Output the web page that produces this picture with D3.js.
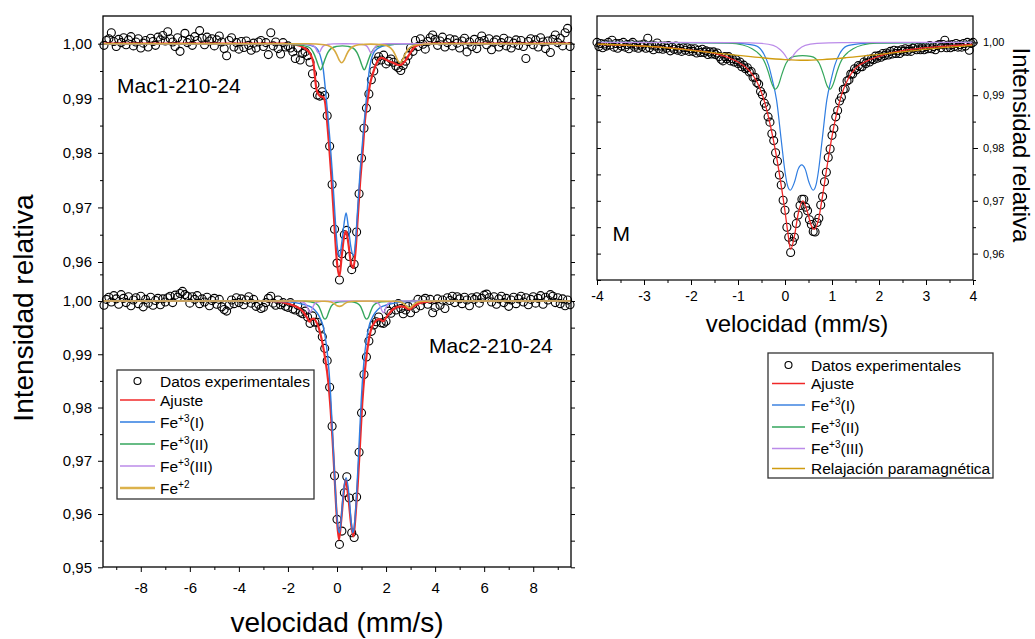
<!DOCTYPE html>
<html>
<head>
<meta charset="utf-8">
<script src="https://cdn.jsdelivr.net/npm/d3@7"></script>
<style>
body { margin: 0; background: #fff; }
text { font-family: "Liberation Sans", Arial, sans-serif; fill: #000; }
</style>
</head>
<body>
<svg width="1035" height="639"></svg>
<script>
// velocidades de canal (mm/s), muestras Mac1 / Mac2
var velMac = [-9.5,-9.4,-9.3,-9.2,-9.1,-9,-8.9,-8.8,-8.7,-8.6,
  -8.5,-8.4,-8.3,-8.2,-8.1,-8,-7.9,-7.8,-7.7,-7.6,
  -7.5,-7.4,-7.3,-7.2,-7.1,-7,-6.9,-6.8,-6.7,-6.6,
  -6.5,-6.4,-6.3,-6.2,-6.1,-6,-5.9,-5.8,-5.7,-5.6,
  -5.5,-5.4,-5.3,-5.2,-5.1,-5,-4.9,-4.8,-4.7,-4.6,
  -4.5,-4.4,-4.3,-4.2,-4.1,-4,-3.9,-3.8,-3.7,-3.6,
  -3.5,-3.4,-3.3,-3.2,-3.1,-3,-2.9,-2.8,-2.7,-2.6,
  -2.5,-2.4,-2.3,-2.2,-2.1,-2,-1.9,-1.8,-1.7,-1.6,
  -1.5,-1.4,-1.3,-1.2,-1.1,-1,-0.9,-0.8,-0.7,-0.6,
  -0.5,-0.4,-0.3,-0.2,-0.1,0,0.1,0.2,0.3,0.4,
  0.5,0.6,0.7,0.8,0.9,1,1.1,1.2,1.3,1.4,
  1.5,1.6,1.7,1.8,1.9,2,2.1,2.2,2.3,2.4,
  2.5,2.6,2.7,2.8,2.9,3,3.1,3.2,3.3,3.4,
  3.5,3.6,3.7,3.8,3.9,4,4.1,4.2,4.3,4.4,
  4.5,4.6,4.7,4.8,4.9,5,5.1,5.2,5.3,5.4,
  5.5,5.6,5.7,5.8,5.9,6,6.1,6.2,6.3,6.4,
  6.5,6.6,6.7,6.8,6.9,7,7.1,7.2,7.3,7.4,
  7.5,7.6,7.7,7.8,7.9,8,8.1,8.2,8.3,8.4,
  8.5,8.6,8.7,8.8,8.9,9,9.1,9.2,9.3,9.4,
  9.5];

var mac1 = [0.9997,1.0006,1.0009,1.0020,1.0004,0.9995,1.0008,1.0002,1.0011,0.9998,
  1.0007,1.0013,0.9996,1.0003,1.0009,0.9992,1.0001,1.0006,0.9994,1.0010,
  1.0004,0.9997,1.0012,1.0007,1.0015,1.0005,1.0022,1.0009,1.0003,0.9995,
  1.0011,0.9986,1.0006,1.0019,1.0002,1.0008,0.9997,1.0013,1.0006,1.0024,
  1.0010,0.9998,1.0012,1.0005,1.0009,0.9996,1.0007,1.0014,1.0003,0.9991,
  0.9978,1.0006,1.0011,0.9994,1.0002,0.9990,1.0004,0.9993,1.0005,0.9997,
  0.9988,1.0001,0.9992,1.0003,1.0006,0.9995,1.0002,0.9980,1.0020,0.9996,
  1.0003,0.9991,0.9981,1.0002,0.9994,0.9996,0.9992,0.9985,0.9973,0.9992,
  0.9970,0.9982,0.9985,0.9978,0.9966,0.9945,0.9925,0.9906,0.9904,0.9912,
  0.9905,0.9868,0.9812,0.9742,0.9660,0.9598,0.9567,0.9615,0.9650,0.9658,
  0.9610,0.9586,0.9596,0.9655,0.9725,0.9790,0.9845,0.9882,0.9908,0.9934,
  0.9950,0.9968,0.9976,0.9970,0.9979,0.9963,0.9968,0.9972,0.9966,0.9959,
  0.9956,0.9951,0.9960,0.9968,0.9978,0.9992,0.9986,1.0006,0.9995,1.0009,
  0.9999,0.9990,1.0004,1.0011,1.0016,1.0008,0.9997,1.0005,1.0012,0.9994,
  1.0002,1.0009,0.9996,1.0007,1.0001,0.9992,1.0005,1.0010,0.9985,1.0003,
  0.9995,1.0008,0.9991,1.0004,1.0014,1.0006,0.9998,1.0009,0.9989,1.0003,
  1.0007,0.9994,1.0002,1.0010,0.9996,1.0005,0.9992,1.0001,1.0007,0.9997,
  1.0006,0.9995,0.9973,1.0004,1.0009,0.9998,1.0007,0.9994,1.0011,1.0003,
  0.9991,1.0005,0.9984,1.0008,1.0016,1.0002,1.0010,0.9996,1.0020,1.0028,
  0.9995];

var mac2 = [0.9992,1.0003,1.0007,0.9998,1.0010,1.0004,0.9994,1.0012,1.0005,0.9997,
  1.0008,0.9991,1.0002,1.0006,0.9995,1.0009,0.9989,1.0003,0.9996,1.0007,
  0.9992,1.0001,1.0005,0.9993,1.0004,0.9998,1.0006,1.0009,0.9997,1.0011,
  1.0007,1.0014,1.0018,1.0012,1.0009,0.9996,1.0008,1.0003,1.0010,0.9995,
  1.0004,0.9998,1.0007,0.9991,1.0001,1.0005,0.9994,1.0003,0.9989,0.9984,
  0.9981,0.9992,1.0002,0.9995,1.0006,0.9997,1.0004,0.9993,1.0002,1.0008,
  0.9996,1.0003,0.9990,0.9994,0.9986,0.9988,0.9997,1.0005,1.0009,0.9996,
  0.9992,1.0002,0.9993,0.9997,0.9990,0.9988,0.9997,0.9985,0.9983,0.9992,
  0.9979,0.9976,0.9981,0.9970,0.9958,0.9972,0.9960,0.9960,0.9949,0.9933,
  0.9911,0.9888,0.9838,0.9765,0.9672,0.9590,0.9543,0.9568,0.9640,0.9670,
  0.9630,0.9565,0.9556,0.9632,0.9716,0.9790,0.9862,0.9895,0.9925,0.9943,
  0.9955,0.9961,0.9970,0.9959,0.9958,0.9962,0.9981,0.9977,0.9992,0.9983,
  0.9995,0.9986,0.9976,0.9983,0.9990,0.9978,0.9994,0.9986,1.0003,0.9991,
  1.0002,1.0005,0.9994,1.0003,0.9978,0.9988,1.0004,0.9992,1.0002,0.9986,
  1.0006,1.0001,1.0009,0.9997,1.0008,1.0004,0.9995,1.0007,1.0002,0.9991,
  1.0006,1.0003,1.0008,0.9996,1.0005,1.0011,1.0013,1.0006,0.9998,1.0008,
  0.9994,1.0004,1.0009,0.9997,1.0005,0.9990,1.0002,1.0007,0.9995,1.0004,
  1.0009,0.9998,1.0006,0.9993,1.0003,1.0008,0.9996,1.0005,1.0010,0.9994,
  1.0007,1.0002,1.0012,1.0009,0.9997,1.0006,0.9995,1.0004,0.9991,1.0002,
  0.9993];

// muestra M
var velM = [-4,-3.96,-3.92,-3.88,-3.84,-3.8,-3.76,-3.72,-3.68,-3.64,
  -3.6,-3.56,-3.52,-3.48,-3.44,-3.4,-3.36,-3.32,-3.28,-3.24,
  -3.2,-3.16,-3.12,-3.08,-3.04,-3,-2.96,-2.92,-2.88,-2.84,
  -2.8,-2.76,-2.72,-2.68,-2.64,-2.6,-2.56,-2.52,-2.48,-2.44,
  -2.4,-2.36,-2.32,-2.28,-2.24,-2.2,-2.16,-2.12,-2.08,-2.04,
  -2,-1.96,-1.92,-1.88,-1.84,-1.8,-1.76,-1.72,-1.68,-1.64,
  -1.6,-1.56,-1.52,-1.48,-1.44,-1.4,-1.36,-1.32,-1.28,-1.24,
  -1.2,-1.16,-1.12,-1.08,-1.04,-1,-0.96,-0.92,-0.88,-0.84,
  -0.8,-0.76,-0.72,-0.68,-0.64,-0.6,-0.56,-0.52,-0.48,-0.44,
  -0.4,-0.36,-0.32,-0.28,-0.24,-0.2,-0.16,-0.12,-0.08,-0.04,
  0,0.04,0.08,0.12,0.16,0.2,0.24,0.28,0.32,0.36,
  0.4,0.44,0.48,0.52,0.56,0.6,0.64,0.68,0.72,0.76,
  0.8,0.84,0.88,0.92,0.96,1,1.04,1.08,1.12,1.16,
  1.2,1.24,1.28,1.32,1.36,1.4,1.44,1.48,1.52,1.56,
  1.6,1.64,1.68,1.72,1.76,1.8,1.84,1.88,1.92,1.96,
  2,2.04,2.08,2.12,2.16,2.2,2.24,2.28,2.32,2.36,
  2.4,2.44,2.48,2.52,2.56,2.6,2.64,2.68,2.72,2.76,
  2.8,2.84,2.88,2.92,2.96,3,3.04,3.08,3.12,3.16,
  3.2,3.24,3.28,3.32,3.36,3.4,3.44,3.48,3.52,3.56,
  3.6,3.64,3.68,3.72,3.76,3.8,3.84,3.88,3.92,3.96,
  4];

var muestraM = [1.0000,0.9992,0.9998,0.9990,0.9997,0.9993,1.0000,0.9995,1.0004,0.9991,
  0.9998,0.9989,0.9998,0.9993,1.0000,0.9991,0.9996,0.9988,0.9997,1.0000,
  0.9991,0.9995,0.9989,0.9995,0.9992,0.9997,0.9989,1.0008,0.9990,0.9995,
  0.9986,0.9993,0.9999,0.9988,0.9993,0.9987,0.9993,0.9989,0.9994,0.9984,
  0.9991,0.9987,0.9993,0.9985,0.9989,0.9983,0.9990,0.9985,0.9990,0.9983,
  0.9988,0.9983,0.9988,0.9980,0.9985,0.9981,0.9987,0.9981,0.9984,0.9977,
  0.9982,0.9978,0.9982,0.9977,0.9980,0.9973,0.9968,0.9965,0.9973,0.9969,
  0.9973,0.9965,0.9969,0.9963,0.9967,0.9960,0.9963,0.9954,0.9957,0.9950,
  0.9952,0.9944,0.9945,0.9934,0.9934,0.9924,0.9921,0.9907,0.9901,0.9885,
  0.9878,0.9859,0.9849,0.9827,0.9814,0.9791,0.9775,0.9749,0.9730,0.9701,
  0.9682,0.9650,0.9631,0.9602,0.9623,0.9631,0.9657,0.9673,0.9691,0.9703,
  0.9703,0.9688,0.9681,0.9664,0.9655,0.9642,0.9641,0.9659,0.9667,0.9692,
  0.9708,0.9736,0.9754,0.9782,0.9798,0.9824,0.9837,0.9859,0.9871,0.9889,
  0.9896,0.9911,0.9912,0.9927,0.9929,0.9940,0.9940,0.9950,0.9948,0.9956,
  0.9954,0.9954,0.9963,0.9960,0.9968,0.9963,0.9969,0.9967,0.9974,0.9970,
  0.9975,0.9972,0.9979,0.9975,0.9980,0.9976,0.9983,0.9978,0.9985,0.9979,
  0.9984,0.9979,0.9986,0.9983,0.9988,0.9983,0.9987,0.9983,0.9989,0.9992,
  0.9986,0.9991,0.9986,0.9990,0.9986,0.9992,0.9988,0.9994,0.9988,0.9992,
  0.9986,0.9994,0.9996,0.9990,0.9996,1.0004,0.9990,0.9995,0.9990,0.9996,
  0.9992,0.9998,0.9991,0.9996,0.9991,0.9998,0.9993,1.0000,0.9985,0.9998,
  1.0000];

// curvas de ajuste: [velocidad, intensidad]
var ajusteMac1 = [[-9.54,1],[-2.2,1],[-1.92,0.99995],[-1.49,0.99957],[-1.3,0.9991],[-1.1,0.9982],[-0.96,0.9964],[-0.83,0.9915],[-0.69,0.9904],[-0.56,0.9902],[-0.49,0.9894],[-0.42,0.9866],[-0.33,0.9818],[-0.22,0.9751],[-0.11,0.9671],[-0.01,0.9604],[0.1,0.9574],[0.19,0.961],[0.29,0.9647],[0.37,0.9656],[0.46,0.9635],[0.57,0.9598],[0.67,0.9589],[0.76,0.9623],[0.84,0.9677],[0.94,0.9745],[1.05,0.9805],[1.14,0.986],[1.25,0.9897],[1.34,0.9924],[1.48,0.9948],[1.62,0.9965],[1.82,0.9974],[2.02,0.997],[2.23,0.9966],[2.43,0.9962],[2.57,0.9961],[2.77,0.9968],[2.97,0.9982],[3.18,0.9995],[3.52,0.99995],[4,1],[9.54,1]];
var fe3IMac1 = [[-9.54,1],[-1.92,1],[-1.3,0.99988],[-0.9,0.9994],[-0.69,0.9979],[-0.56,0.9953],[-0.46,0.991],[-0.38,0.9872],[-0.29,0.9825],[-0.19,0.9763],[-0.08,0.9684],[0.01,0.9629],[0.1,0.961],[0.19,0.9634],[0.29,0.9671],[0.37,0.969],[0.46,0.9665],[0.56,0.9629],[0.67,0.9612],[0.76,0.9641],[0.84,0.9696],[0.94,0.9765],[1.05,0.9825],[1.14,0.9872],[1.22,0.991],[1.32,0.9953],[1.45,0.9979],[1.66,0.99915],[2.06,0.99976],[2.84,1],[9.54,1]];
var fe3IIMac1 = [[-9.54,1],[-2.2,1],[-1.67,0.9998],[-1.37,0.99965],[-1.12,0.9993],[-0.97,0.9984],[-0.87,0.9974],[-0.77,0.9961],[-0.67,0.9952],[-0.57,0.9961],[-0.47,0.9974],[-0.37,0.9984],[-0.22,0.9992],[-0.02,0.9995],[0.22,0.9996],[0.46,0.9995],[0.66,0.9992],[0.81,0.9984],[0.91,0.9974],[1.01,0.9961],[1.11,0.9952],[1.21,0.9961],[1.31,0.9974],[1.41,0.9984],[1.56,0.9993],[1.81,0.99965],[2.11,0.9998],[2.64,1],[9.54,1]];
var fe3IIIMac1 = [[-9.54,1],[-1.35,1],[-1.1,0.99985],[-0.95,0.9996],[-0.87,0.99915],[-0.81,0.9986],[-0.75,0.9983],[-0.69,0.9986],[-0.63,0.99915],[-0.55,0.9996],[-0.4,0.99985],[-0.15,0.99997],[0.325,0.99999],[0.8,0.99997],[1.05,0.99985],[1.2,0.9996],[1.28,0.99915],[1.34,0.9986],[1.4,0.9983],[1.46,0.9986],[1.52,0.99915],[1.6,0.9996],[1.75,0.99985],[2,1],[9.54,1]];
var fe2Mac1 = [[-9.54,1],[-1.2,1],[-0.51,0.9998],[-0.26,0.99945],[-0.11,0.9988],[-0.01,0.998],[0.09,0.997],[0.19,0.9965],[0.29,0.997],[0.39,0.998],[0.49,0.9988],[0.64,0.99945],[0.89,0.9998],[1.38,0.99992],[1.87,0.9998],[2.12,0.99945],[2.27,0.9988],[2.37,0.998],[2.47,0.997],[2.57,0.9965],[2.67,0.997],[2.77,0.998],[2.87,0.9988],[3.02,0.99945],[3.27,0.9998],[3.9,1],[9.54,1]];

var ajusteMac2 = [[-9.54,1],[-3,1],[-2.5,0.99995],[-2,0.9995],[-1.7,0.999],[-1.5,0.9985],[-1.35,0.9978],[-1.2,0.9967],[-1.12,0.9961],[-1.03,0.9966],[-0.95,0.9967],[-0.85,0.9961],[-0.76,0.9952],[-0.62,0.9927],[-0.49,0.9894],[-0.35,0.9846],[-0.26,0.9796],[-0.18,0.9739],[-0.1,0.9671],[-0.01,0.9596],[0.08,0.9552],[0.16,0.9583],[0.26,0.9633],[0.35,0.9664],[0.46,0.9633],[0.57,0.9583],[0.67,0.9558],[0.76,0.9600],[0.84,0.9652],[0.94,0.9733],[1.03,0.9808],[1.13,0.9866],[1.24,0.991],[1.37,0.9943],[1.55,0.9961],[1.72,0.9966],[1.88,0.9962],[2.02,0.997],[2.3,0.9985],[2.6,0.999],[2.8,0.9988],[2.95,0.9984],[3.1,0.9989],[3.3,0.9995],[3.6,0.99985],[4.2,1],[9.54,1]];
var fe3IMac2 = [[-9.54,1],[-3.3,1],[-2,0.99985],[-1.5,0.9995],[-1.2,0.99915],[-0.97,0.9986],[-0.8,0.9977],[-0.69,0.9968],[-0.58,0.9955],[-0.49,0.9935],[-0.4,0.9905],[-0.32,0.9865],[-0.25,0.9815],[-0.18,0.975],[-0.1,0.9675],[-0.02,0.9608],[0.05,0.9572],[0.1,0.9565],[0.17,0.959],[0.26,0.964],[0.37,0.9668],[0.48,0.964],[0.57,0.959],[0.64,0.9565],[0.69,0.9572],[0.76,0.9608],[0.84,0.9675],[0.92,0.975],[0.99,0.9815],[1.06,0.9865],[1.14,0.9905],[1.23,0.9935],[1.32,0.9955],[1.43,0.9968],[1.54,0.9977],[1.71,0.9986],[1.94,0.99915],[2.24,0.9995],[2.74,0.99985],[4,1],[9.54,1]];
var fe3IIMac2 = [[-9.54,1],[-2,1],[-1.3,0.99995],[-1.09,0.99985],[-0.89,0.9996],[-0.74,0.999],[-0.64,0.9979],[-0.57,0.997],[-0.49,0.9966],[-0.41,0.997],[-0.34,0.9979],[-0.24,0.999],[-0.09,0.9996],[0.11,0.99985],[0.36,0.99988],[0.61,0.99985],[0.81,0.9996],[0.96,0.999],[1.06,0.9979],[1.13,0.997],[1.21,0.9966],[1.29,0.997],[1.36,0.9979],[1.46,0.999],[1.61,0.9996],[1.81,0.99985],[2.5,0.99995],[3.2,1],[9.54,1]];
var fe3IIIMac2 = [[-9.54,1],[-1.9,1],[-1.7,0.99997],[-1.45,0.99985],[-1.3,0.99955],[-1.22,0.9989],[-1.16,0.9982],[-1.1,0.9978],[-1.04,0.9982],[-0.98,0.9989],[-0.9,0.99955],[-0.75,0.99985],[-0.5,0.99997],[0.4,0.99999],[1.29,0.99997],[1.54,0.99985],[1.69,0.99955],[1.77,0.9989],[1.83,0.9982],[1.89,0.9978],[1.95,0.9982],[2.01,0.9989],[2.09,0.99955],[2.24,0.99985],[2.49,0.99997],[2.8,1],[9.54,1]];
var fe2Mac2 = [[-9.54,1],[-1,1],[-0.5,0.99995],[-0.25,0.9998],[-0.1,0.99945],[0,0.9991],[0.1,0.999],[0.2,0.9991],[0.3,0.99945],[0.45,0.9998],[0.7,0.99995],[1.5,1],[2.35,0.99995],[2.6,0.9998],[2.75,0.9994],[2.85,0.9990],[2.95,0.9987],[3.05,0.999],[3.15,0.9994],[3.3,0.9998],[3.55,0.99995],[4.2,1],[9.54,1]];

var ajusteM = [[-4,0.99965],[-3.5,0.9995],[-3,0.9993],[-2.5,0.999],[-2,0.99855],[-1.5,0.9979],[-1.2,0.9971],[-1,0.9963],[-0.8,0.995],[-0.7,0.994],[-0.6,0.9926],[-0.5,0.9905],[-0.4,0.9876],[-0.3,0.9838],[-0.2,0.9793],[-0.1,0.974],[0,0.968],[0.06,0.964],[0.12,0.9608],[0.2,0.9633],[0.28,0.9675],[0.38,0.97],[0.48,0.9678],[0.56,0.9653],[0.62,0.9646],[0.7,0.966],[0.8,0.971],[0.9,0.9768],[1,0.9822],[1.1,0.9866],[1.2,0.99],[1.35,0.9932],[1.5,0.9951],[1.75,0.9965],[2,0.99735],[2.25,0.998],[2.5,0.99845],[3,0.999],[3.5,0.99935],[4,0.9996]];
var fe3IM = [[-4,1],[-2,0.99995],[-1.2,0.9999],[-0.9,0.99975],[-0.6,0.9993],[-0.45,0.9978],[-0.35,0.9957],[-0.27,0.9929],[-0.18,0.9891],[-0.08,0.9815],[0,0.9755],[0.05,0.973],[0.11,0.972],[0.2,0.9735],[0.28,0.976],[0.355,0.9768],[0.43,0.976],[0.51,0.9735],[0.6,0.972],[0.66,0.973],[0.71,0.9755],[0.79,0.9815],[0.89,0.9891],[0.98,0.9929],[1.06,0.9957],[1.16,0.9978],[1.31,0.9993],[1.61,0.99975],[1.9,0.9999],[2.7,0.99995],[4,1]];
var fe3IIM = [[-4,1],[-1.95,0.99995],[-1.2,0.99985],[-0.9,0.9995],[-0.7,0.9988],[-0.6,0.9982],[-0.5,0.9973],[-0.42,0.996],[-0.355,0.9944],[-0.28,0.9922],[-0.21,0.99115],[-0.14,0.9919],[-0.065,0.994],[0.02,0.996],[0.1,0.99695],[0.2,0.99735],[0.375,0.9975],[0.55,0.99735],[0.65,0.99695],[0.73,0.996],[0.815,0.994],[0.89,0.9919],[0.96,0.99115],[1.03,0.9922],[1.105,0.9944],[1.17,0.996],[1.25,0.9973],[1.35,0.9982],[1.45,0.9988],[1.65,0.9995],[1.95,0.99985],[4,1]];
var fe3IIIM = [[-4,1],[-1,0.99995],[-0.5,0.9998],[-0.25,0.99945],[-0.1,0.9986],[0,0.9976],[0.05,0.9969],[0.09,0.99658],[0.13,0.9969],[0.18,0.9976],[0.28,0.9986],[0.43,0.99945],[0.68,0.9998],[1.2,0.99995],[4,1]];
var relajM = [[-4,0.9997],[-3.5,0.99955],[-3,0.9993],[-2.5,0.99895],[-2,0.9985],[-1.5,0.998],[-1,0.99755],[-0.5,0.9971],[0,0.99675],[0.4,0.99662],[0.8,0.99675],[1.3,0.9971],[1.8,0.99755],[2.3,0.998],[2.8,0.9985],[3.3,0.99895],[3.8,0.9993],[4,0.99945]];

var nombresMac = [['Datos experimentales'], ['Ajuste'], ['Fe', '+3', '(I)'], ['Fe', '+3', '(II)'], ['Fe', '+3', '(III)'], ['Fe', '+2', '']];
var nombresM = [['Datos experimentales'], ['Ajuste'], ['Fe', '+3', '(I)'], ['Fe', '+3', '(II)'], ['Fe', '+3', '(III)'], ['Relajación paramagnética']];

var rojo = '#f02828', azul = '#2f7de1', verde = '#34a65c', violeta = '#bb8be9';

var svg = d3.select('svg');
svg.append('rect').attr('width', 1035).attr('height', 639).attr('fill', '#fff');

var coma = d3.formatLocale({decimal: ',', thousands: '.', grouping: [3], currency: ['', '']}).format('.2f');
var guion = function (d) { return String(d); };

var xMac = d3.scaleLinear().domain([-9.54, 9.54]).range([103, 571]);
var yMac1 = d3.scaleLinear().domain([0.96, 1.0]).range([262, 43.7]);
var yMac2 = d3.scaleLinear().domain([0.95, 1.0]).range([567.3, 301]);
var xM = d3.scaleLinear().domain([-4, 4]).range([597, 973]);
var yM = d3.scaleLinear().domain([0.955, 1.005]).range([280, 16]);

function dibujar(x, y, vel, vals, curvas) {
    var g = svg.append('g');
    g.selectAll('circle')
        .data(vals)
        .enter()
        .append('circle')
        .attr('cx', function (d, i) { return x(vel[i]); })
        .attr('cy', function (d) { return y(d); })
        .attr('r', 4)
        .attr('fill', 'none')
        .attr('stroke', '#000')
        .attr('stroke-width', 1.1);
    var line = d3.line()
        .x(function (d) { return x(d[0]); })
        .y(function (d) { return y(d[1]); })
        .curve(d3.curveMonotoneX);
    curvas.forEach(function (c) {
        g.append('path')
            .datum(c.pts)
            .attr('d', line)
            .attr('fill', 'none')
            .attr('stroke', c.color)
            .attr('stroke-width', c.w);
    });
}

function ejeY(x, y, mayores, menores, lado, tam, pad, conTexto) {
    var eje = (lado == 'left' ? d3.axisLeft(y) : d3.axisRight(y));
    var g = svg.append('g').attr('transform', 'translate(' + x + ',0)')
        .call(eje.tickValues(mayores).tickSize(tam).tickPadding(pad)
            .tickFormat(conTexto ? coma : ''));
    g.select('.domain').remove();
    var g2 = svg.append('g').attr('transform', 'translate(' + x + ',0)')
        .call((lado == 'left' ? d3.axisLeft(y) : d3.axisRight(y))
            .tickValues(menores).tickSize(tam > 4 ? 3 : tam).tickFormat(''));
    g2.select('.domain').remove();
    return g;
}

function ejeX(y, x, mayores, menores, pad, fs) {
    var g = svg.append('g').attr('transform', 'translate(0,' + y + ')')
        .call(d3.axisBottom(x).tickValues(mayores).tickSize(5).tickPadding(pad).tickFormat(guion));
    g.select('.domain').remove();
    g.selectAll('text').attr('font-size', fs).attr('font-family', '"Liberation Sans", Arial, sans-serif');
    var g2 = svg.append('g').attr('transform', 'translate(0,' + y + ')')
        .call(d3.axisBottom(x).tickValues(menores).tickSize(3).tickFormat(''));
    g2.select('.domain').remove();
}

// panel izquierdo
dibujar(xMac, yMac1, velMac, mac1, [
    {pts: ajusteMac1, color: rojo, w: 2.2},
    {pts: fe3IMac1, color: azul, w: 1.4},
    {pts: fe3IIMac1, color: verde, w: 1.4},
    {pts: fe3IIIMac1, color: violeta, w: 1.4},
    {pts: fe2Mac1, color: '#d8aa40', w: 1.6}
]);
dibujar(xMac, yMac2, velMac, mac2, [
    {pts: ajusteMac2, color: rojo, w: 2.2},
    {pts: fe3IMac2, color: azul, w: 1.4},
    {pts: fe3IIMac2, color: verde, w: 1.4},
    {pts: fe3IIIMac2, color: violeta, w: 1.4},
    {pts: fe2Mac2, color: '#d8aa40', w: 1.6}
]);

svg.append('rect').attr('x', 103).attr('y', 16).attr('width', 468).attr('height', 551)
    .attr('fill', 'none').attr('stroke', '#000').attr('stroke-width', 1.3);

var gl1 = ejeY(103, yMac1, [0.96, 0.97, 0.98, 0.99, 1.0], [0.965, 0.975, 0.985, 0.995], 'left', 5, 6, true);
var gl2 = ejeY(103, yMac2, [0.95, 0.96, 0.97, 0.98, 0.99, 1.0], [0.955, 0.965, 0.975, 0.985, 0.995, 1.005], 'left', 5, 6, true);
[gl1, gl2].forEach(function (g) {
    g.selectAll('text').attr('font-size', 15).attr('font-family', '"Liberation Sans", Arial, sans-serif');
});
ejeY(571, yMac1, [0.96, 0.97, 0.98, 0.99, 1.0], [0.965, 0.975, 0.985, 0.995], 'left', -4, 0, false);
ejeY(571, yMac2, [0.95, 0.96, 0.97, 0.98, 0.99, 1.0], [0.955, 0.965, 0.975, 0.985, 0.995, 1.005], 'left', -4, 0, false);
ejeX(567, xMac, [-8, -6, -4, -2, 0, 2, 4, 6, 8], [-9, -7, -5, -3, -1, 1, 3, 5, 7, 9], 10, 15);

svg.append('text').attr('x', 337).attr('y', 632).attr('text-anchor', 'middle')
    .attr('font-size', 28).text('velocidad (mm/s)');
svg.append('text').attr('transform', 'translate(33,308) rotate(-90)').attr('text-anchor', 'middle')
    .attr('font-size', 28).text('Intensidad relativa');
svg.append('text').attr('x', 117).attr('y', 92.5).attr('font-size', 21).text('Mac1-210-24');
svg.append('text').attr('x', 429).attr('y', 352.5).attr('font-size', 21).text('Mac2-210-24');

// panel derecho
dibujar(xM, yM, velM, muestraM, [
    {pts: ajusteM, color: rojo, w: 1.3},
    {pts: fe3IM, color: azul, w: 1.2},
    {pts: fe3IIM, color: verde, w: 1.2},
    {pts: fe3IIIM, color: violeta, w: 1.2},
    {pts: relajM, color: '#d09c10', w: 1.3}
]);
svg.append('rect').attr('x', 597).attr('y', 16).attr('width', 376).attr('height', 264)
    .attr('fill', 'none').attr('stroke', '#000').attr('stroke-width', 1.2);

var gr = ejeY(973, yM, [0.96, 0.97, 0.98, 0.99, 1.0], [0.955, 0.965, 0.975, 0.985, 0.995], 'right', 5, 5, true);
gr.selectAll('text').attr('font-size', 11).attr('font-family', '"Liberation Sans", Arial, sans-serif');
ejeY(597, yM, [0.96, 0.97, 0.98, 0.99, 1.0], [0.955, 0.965, 0.975, 0.985, 0.995], 'right', 4, 0, false);
ejeX(280, xM, [-4, -3, -2, -1, 0, 1, 2, 3, 4], [-3.5, -2.5, -1.5, -0.5, 0.5, 1.5, 2.5, 3.5], 6.5, 14);

svg.append('text').attr('x', 797).attr('y', 332).attr('text-anchor', 'middle')
    .attr('font-size', 24).text('velocidad (mm/s)');
svg.append('text').attr('transform', 'translate(1013,145) rotate(90)').attr('text-anchor', 'middle')
    .attr('font-size', 24).text('Intensidad relativa');
svg.append('text').attr('x', 612.5).attr('y', 240.5).attr('font-size', 21).text('M');

// leyendas
function leyenda(x0, y0, w, h, filas, nombres, colores, anchos, xl1, xl2, xt, ycirc) {
    var g = svg.append('g');
    g.append('rect').attr('x', x0).attr('y', y0).attr('width', w).attr('height', h)
        .attr('fill', '#fff').attr('stroke', '#333').attr('stroke-width', 1.3);
    g.append('circle').attr('cx', (xl1 + xl2) / 2).attr('cy', ycirc).attr('r', 3.5)
        .attr('fill', 'none').attr('stroke', '#000').attr('stroke-width', 1.1);
    filas.forEach(function (yy, i) {
        g.append('line').attr('x1', xl1).attr('x2', xl2).attr('y1', yy).attr('y2', yy)
            .attr('stroke', colores[i]).attr('stroke-width', anchos[i]);
    });
    nombres.forEach(function (n, i) {
        var yy = (i == 0 ? ycirc : filas[i - 1]) + 5.5;
        var t = g.append('text').attr('x', xt).attr('y', yy).attr('font-size', 15.5);
        t.append('tspan').text(n[0]);
        if (n.length > 1) {
            t.append('tspan').attr('dy', -6).attr('font-size', 10).text(n[1]);
            t.append('tspan').attr('dy', 6).text(n[2]);
        }
    });
}

leyenda(117, 370, 197, 129, [400, 422, 444, 466, 488], nombresMac,
    [rojo, azul, verde, violeta, '#dcb24c'], [1.6, 1.6, 1.6, 1.6, 2.6], 120, 155, 160, 381);
leyenda(768, 353, 225, 125, [383.5, 405, 427, 448.5, 468.5], nombresM,
    [rojo, '#6ea2e8', verde, violeta, '#d09c10'], [1.5, 2, 1.3, 1.3, 1.3], 772, 805, 811, 365);
</script>
</body>
